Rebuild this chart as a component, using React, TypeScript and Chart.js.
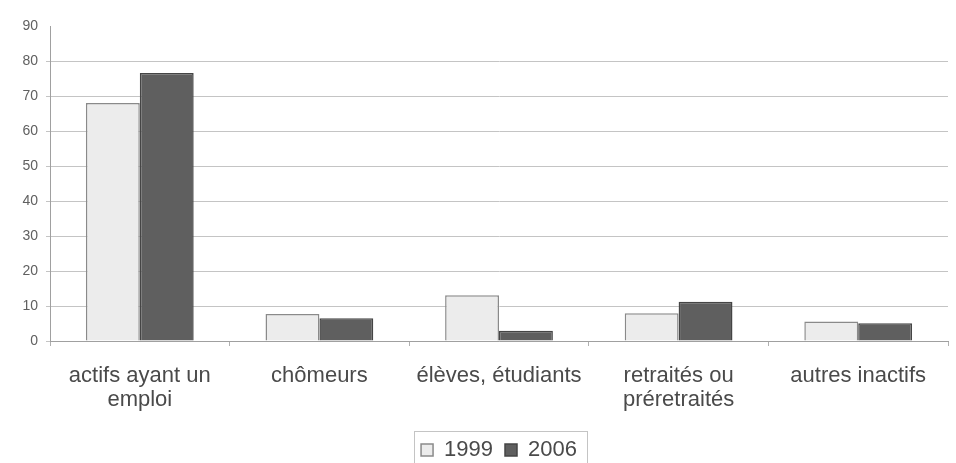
import React, { useEffect, useRef } from "react";
import { Chart, registerables } from "chart.js";

Chart.register(...registerables);

const categories: (string | string[])[] = [
  ["actifs ayant un", "emploi"],
  "chômeurs",
  "élèves, étudiants",
  ["retraités ou", "préretraités"],
  "autres inactifs",
];
const series1999 = [68, 7.7, 13.1, 7.9, 5.6];
const series2006 = [76.6, 6.5, 2.9, 11.2, 5.1];
const yTicks = [0, 10, 20, 30, 40, 50, 60, 70, 80, 90];

const legendBorder = {
  id: "legendBorder",
  afterDraw(chart: any) {
    const l = chart.legend;
    if (!l || !l.legendHitBoxes || !l.legendHitBoxes.length) return;
    const boxes = l.legendHitBoxes;
    const x0 = Math.min(...boxes.map((b: any) => b.left)) - 7;
    const x1 = Math.max(...boxes.map((b: any) => b.left + b.width)) + 10;
    const y0 = l.top + 4;
    const y1 = 475;
    const ctx = chart.ctx;
    ctx.save();
    ctx.strokeStyle = "#c4c4c4";
    ctx.lineWidth = 1;
    ctx.strokeRect(Math.round(x0) + 0.5, Math.round(y0) + 0.5, Math.round(x1 - x0), Math.round(y1 - y0));
    ctx.restore();
  },
};

export default function App() {
  const ref = useRef<HTMLCanvasElement>(null);
  useEffect(() => {
    document.body.style.margin = "0";
    const chart = new Chart(ref.current!, {
      type: "bar",
      data: {
        labels: categories,
        datasets: [
          {
            label: "1999",
            data: series1999,
            backgroundColor: "#ececec",
            borderColor: "#8a8a8a",
            borderWidth: 1.5,
          },
          {
            label: "2006",
            data: series2006,
            backgroundColor: "#5f5f5f",
            borderColor: "#454545",
            borderWidth: 1.5,
          },
        ],
      },
      options: {
        animation: false,
        responsive: false,
        layout: { padding: { top: 26, right: 8, bottom: -8, left: 0 } },
        datasets: { bar: { categoryPercentage: 0.6, barPercentage: 1.0 } },
        plugins: {
          tooltip: { enabled: false },
          legend: {
            position: "bottom",
            fullSize: false,
            labels: {
              font: { family: "Liberation Sans", size: 22 },
              color: "#4a4a4a",
              boxWidth: 12,
              boxHeight: 12,
              padding: 12,
              useBorderRadius: false,
            },
          },
        },
        scales: {
          x: {
            offset: true,
            grid: {
              display: true,
              offset: true,
              drawOnChartArea: false,
              drawTicks: true,
              tickLength: 5,
              color: "#b0b0b0",
            },
            border: { display: true, color: "#a0a0a0" },
            ticks: {
              font: { family: "Liberation Sans", size: 22, lineHeight: 1.1 },
              color: "#4a4a4a",
              maxRotation: 0,
              autoSkip: false,
              padding: 18,
            },
            afterFit(scale: any) {
              scale.height = 86;
            },
          },
          y: {
            min: 0,
            max: 90,
            afterBuildTicks(scale: any) {
              scale.ticks = yTicks.map((v) => ({ value: v }));
            },
            grid: {
              color: (ctx: any) => (ctx.tick && ctx.tick.value === 90 ? "rgba(0,0,0,0)" : "#c4c4c4"),
              tickLength: 4,
              drawTicks: true,
            },
            border: { display: true, color: "#a0a0a0" },
            ticks: {
              font: { family: "Liberation Sans", size: 14 },
              color: "#606060",
              padding: 8,
            },
            afterFit(scale: any) {
              scale.width = 50;
            },
          },
        },
      },
      plugins: [legendBorder],
    });
    return () => chart.destroy();
  }, []);
  return (
    <div style={{ width: 956, height: 463, background: "#fff" }}>
      <canvas ref={ref} width={956} height={463} style={{ display: "block" }} />
    </div>
  );
}
